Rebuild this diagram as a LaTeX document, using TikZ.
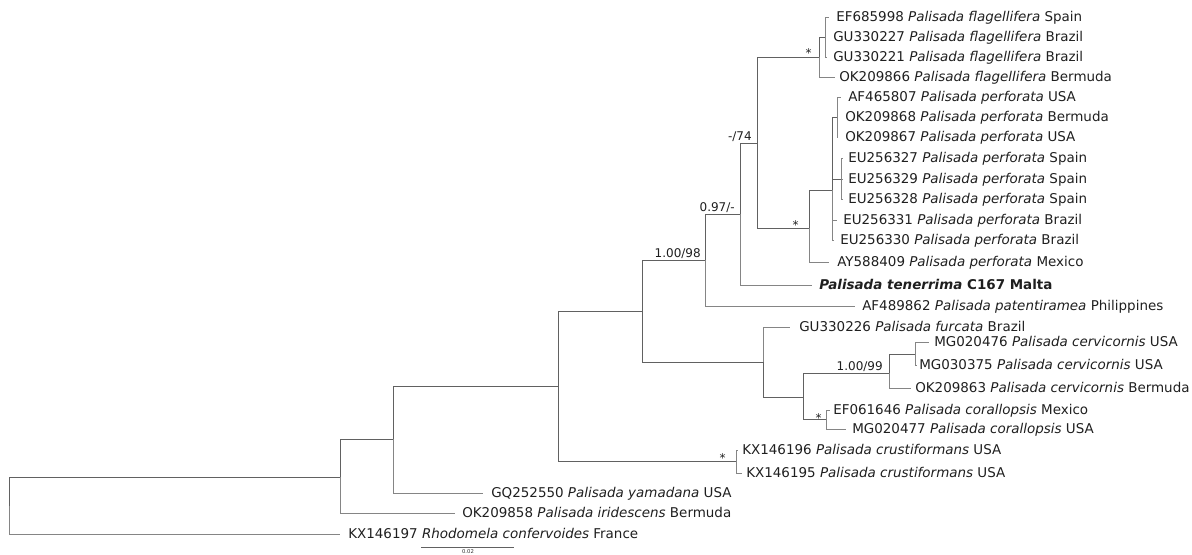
\documentclass[tikz,border=0pt]{standalone}
\usepackage{fontspec}
\setmainfont{DejaVu Sans}
\begin{document}
\begin{tikzpicture}[x=0.75pt,y=-0.75pt,
  br/.style={draw=black!62, line width=0.6pt},
  tb/.style={draw=black!48, line width=0.6pt},
  tip/.style={anchor=base west, inner sep=0pt, font=\fontsize{10.1}{12}\selectfont, text=black!88},
  sup/.style={anchor=base east, inner sep=0pt, font=\fontsize{9}{11}\selectfont, text=black!88},
  scl/.style={anchor=base, inner sep=0pt, font=\fontsize{4}{5}\selectfont, text=black!80}]
\useasboundingbox (0,0) rectangle (1192,554);

% internal nodes
\coordinate (root) at (9,505.5);
\coordinate (m) at (340,477);
\coordinate (l) at (393,439);
\coordinate (j) at (558,386);
\coordinate (e) at (642,311);
\coordinate (d) at (705,260);
\coordinate (c) at (740,214);
\coordinate (a) at (757,143);
\coordinate (fl1) at (819,57);
\coordinate (fl2) at (825,37);
\coordinate (b) at (809,228);
\coordinate (pf) at (832,190);
\coordinate (pf3) at (837,117);
\coordinate (pf4) at (841,179);
\coordinate (f) at (763,362);
\coordinate (g) at (803,397);
\coordinate (h) at (889,373);
\coordinate (i) at (915,354);
\coordinate (k) at (826,419.5);
\coordinate (cr) at (736,461.5);

% tip ends
\coordinate (t1) at (829,17);
\coordinate (t2) at (826,37);
\coordinate (t3) at (827,57);
\coordinate (t4) at (835,77);
\coordinate (t5) at (841,97);
\coordinate (t6) at (838,117);
\coordinate (t7) at (838,137);
\coordinate (t8) at (843,158);
\coordinate (t9) at (843,179);
\coordinate (t10) at (843,199);
\coordinate (t11) at (837,220);
\coordinate (t12) at (834,240);
\coordinate (t13) at (829,262);
\coordinate (t14) at (812,285);
\coordinate (t15) at (855,306);
\coordinate (t16) at (790,327);
\coordinate (t17) at (929,342);
\coordinate (t18) at (917,365);
\coordinate (t19) at (911,388);
\coordinate (t20) at (830,410);
\coordinate (t21) at (846,429);
\coordinate (t22) at (738,450);
\coordinate (t23) at (742,473);
\coordinate (t24) at (483,493);
\coordinate (t25) at (455,513);
\coordinate (t26) at (340,534);

% internal branches
\foreach \p/\q in {root/m, m/l, l/j, j/e, j/cr, e/d, e/f, d/c, c/a, a/fl1, a/b, fl1/fl2, b/pf, pf/pf3, pf/pf4, f/g, g/h, g/k, h/i}
  \draw[br] (\p) |- (\q);
% terminal branches
\foreach \p/\q in {root/t26, m/t25, l/t24, d/t15, c/t14, fl2/t1, fl2/t2, fl2/t3, fl1/t4, pf3/t5, pf3/t6, pf3/t7, pf4/t8, pf4/t9, pf4/t10, pf/t11, pf/t12, b/t13, f/t16, i/t17, i/t18, h/t19, k/t20, k/t21, cr/t22, cr/t23}
  \draw[tb] (\p) |- (\q);

% tip labels
\node[tip] (n1) at (836,21) {EF685998 \textit{Palisada flagellifera} Spain};
\node[tip] (n2) at (833,41) {GU330227 \textit{Palisada flagellifera} Brazil};
\node[tip] (n3) at (833,61) {GU330221 \textit{Palisada flagellifera} Brazil};
\node[tip] (n4) at (839,81) {OK209866 \textit{Palisada flagellifera} Bermuda};
\node[tip] (n5) at (848,101) {AF465807 \textit{Palisada perforata} USA};
\node[tip] (n6) at (845,121) {OK209868 \textit{Palisada perforata} Bermuda};
\node[tip] (n7) at (845,141) {OK209867 \textit{Palisada perforata} USA};
\node[tip] (n8) at (848,162) {EU256327 \textit{Palisada perforata} Spain};
\node[tip] (n9) at (848,183) {EU256329 \textit{Palisada perforata} Spain};
\node[tip] (n10) at (848,203) {EU256328 \textit{Palisada perforata} Spain};
\node[tip] (n11) at (843,224) {EU256331 \textit{Palisada perforata} Brazil};
\node[tip] (n12) at (840,244) {EU256330 \textit{Palisada perforata} Brazil};
\node[tip] (n13) at (837,266) {AY588409 \textit{Palisada perforata} Mexico};
\node[tip] (n14) at (819,289) {\bfseries\textit{Palisada tenerrima} C167 Malta};
\node[tip] (n15) at (862,310) {AF489862 \textit{Palisada patentiramea} Philippines};
\node[tip] (n16) at (799,331) {GU330226 \textit{Palisada furcata} Brazil};
\node[tip] (n17) at (934,346) {MG020476 \textit{Palisada cervicornis} USA};
\node[tip] (n18) at (919,369) {MG030375 \textit{Palisada cervicornis} USA};
\node[tip] (n19) at (915,392) {OK209863 \textit{Palisada cervicornis} Bermuda};
\node[tip] (n20) at (833,414) {EF061646 \textit{Palisada corallopsis} Mexico};
\node[tip] (n21) at (852,433) {MG020477 \textit{Palisada corallopsis} USA};
\node[tip] (n22) at (742,454) {KX146196 \textit{Palisada crustiformans} USA};
\node[tip] (n23) at (746,477) {KX146195 \textit{Palisada crustiformans} USA};
\node[tip] (n24) at (491,497) {GQ252550 \textit{Palisada yamadana} USA};
\node[tip] (n25) at (462,517) {OK209858 \textit{Palisada iridescens} Bermuda};
\node[tip] (n26) at (348,538) {KX146197 \textit{Rhodomela confervoides} France};

% support values
\node[sup] (s1) at (812,57) {*};
\node[sup] (s2) at (752,140.5) {-/74};
\node[sup] (s3) at (799,229) {*};
\node[sup] (s4) at (735,211.5) {0.97/-};
\node[sup] (s5) at (701,257.5) {1.00/98};
\node[sup] (s6) at (883,370.5) {1.00/99};
\node[sup] (s7) at (822,422) {*};
\node[sup] (s8) at (726,462) {*};

% scale bar
\coordinate (sb1) at (421,547);
\coordinate (sb2) at (514,547);
\draw[br] (sb1) -- (sb2);
\node[scl] (sbl) at (468,553.5) {0.02};
\end{tikzpicture}
\end{document}
